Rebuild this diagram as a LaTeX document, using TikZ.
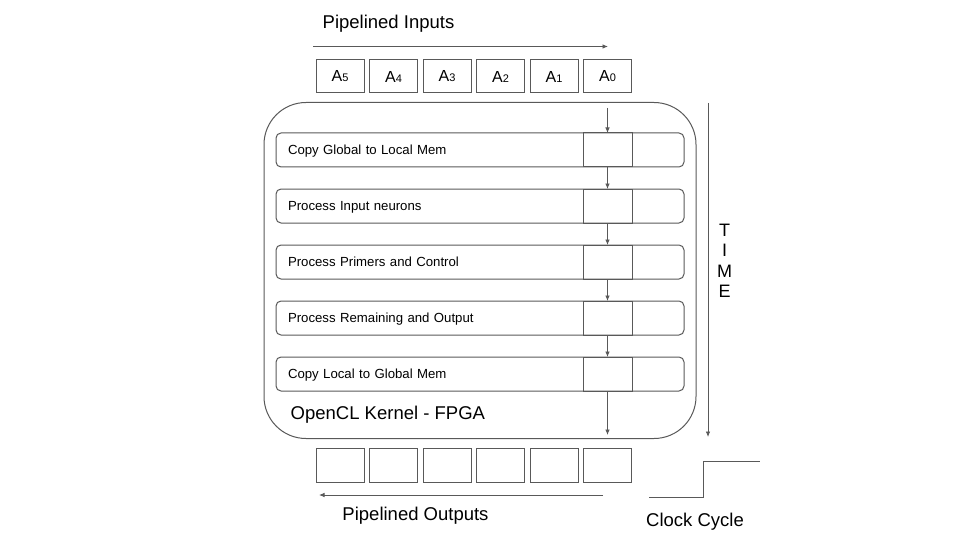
\documentclass[tikz,border=0pt]{standalone}
\usepackage{fontspec}
\setmainfont{Liberation Sans}
\usetikzlibrary{arrows.meta,positioning}
\newcommand{\idx}[1]{{\fontsize{11}{11}\selectfont #1}}
\tikzset{
  base/.style={align=center, inner sep=0pt, outer sep=0pt, text=black},
  big/.style={base, font=\fontsize{18.5}{20.5}\selectfont},
  slot/.style={rectangle, draw=black!65, line width=1pt, minimum width=48pt, minimum height=33pt, base, font=\fontsize{16}{16}\selectfont},
  stage/.style={rectangle, draw=black!65, line width=1pt, rounded corners=5pt, minimum width=408pt, minimum height=34pt, text width=384pt, text depth=0pt, inner xsep=12pt, align=left, outer sep=0pt, font=\fontsize{13.2}{15}\selectfont},
  cell/.style={rectangle, draw=black!65, line width=1pt, minimum width=49pt, minimum height=34pt, inner sep=0pt, outer sep=0pt},
  kernel/.style={rectangle, draw=black!65, line width=1pt, rounded corners=42pt, minimum width=432pt, minimum height=336pt, base},
  arrow/.style={-{Latex[length=5.5pt,width=4.5pt]}, line width=0.8pt, color=black!65},
  wire/.style={line width=1pt, color=black!65}
}
\begin{document}
\begin{tikzpicture}[x=1pt, y=-1pt, node distance=22pt and 5.5pt]
  \useasboundingbox (0,0) rectangle (960,540);

  % kernel box
  \node[kernel] (fpga) at (480,270.5) {};
  \node[big, anchor=base west] (fpgalbl) at (290.7,419.3) {OpenCL Kernel - FPGA};

  % inputs
  \node[big, anchor=base] (inlbl) at (388.5,28.3) {Pipelined Inputs};
  \coordinate (infrom) at (313,46.5);
  \coordinate (into) at (608,46.5);
  \draw[arrow] (infrom) -- (into);
  \node[slot] (a5) at (340,76.5) {A\idx{5}};
  \node[slot, right=of a5] (a4) {A\idx{4}};
  \node[slot, right=of a4] (a3) {A\idx{3}};
  \node[slot, right=of a3] (a2) {A\idx{2}};
  \node[slot, right=of a2] (a1) {A\idx{1}};
  \node[slot, right=of a1] (a0) {A\idx{0}};

  % pipeline stages
  \node[stage] (copyin) at (480,150) {Copy Global to Local Mem};
  \node[stage, below=of copyin] (inneur) {Process Input neurons};
  \node[stage, below=of inneur] (primers) {Process Primers and Control};
  \node[stage, below=of primers] (remain) {Process Remaining and Output};
  \node[stage, below=of remain] (copyout) {Copy Local to Global Mem};

  \node[cell, anchor=north west] (c1) at ([xshift=307pt]copyin.north west) {};
  \node[cell, anchor=north west] (c2) at ([xshift=307pt]inneur.north west) {};
  \node[cell, anchor=north west] (c3) at ([xshift=307pt]primers.north west) {};
  \node[cell, anchor=north west] (c4) at ([xshift=307pt]remain.north west) {};
  \node[cell, anchor=north west] (c5) at ([xshift=307pt]copyout.north west) {};

  \coordinate (enter) at (607.5,108);
  \coordinate (leave) at (607.5,435);
  \draw[arrow] (enter) -- (c1.north);
  \draw[arrow] (c1.south) -- (c2.north);
  \draw[arrow] (c2.south) -- (c3.north);
  \draw[arrow] (c3.south) -- (c4.north);
  \draw[arrow] (c4.south) -- (c5.north);
  \draw[arrow] (c5.south) -- (leave);

  % outputs
  \node[slot, minimum height=34pt] (o5) at (340,465) {};
  \node[slot, minimum height=34pt, right=of o5] (o4) {};
  \node[slot, minimum height=34pt, right=of o4] (o3) {};
  \node[slot, minimum height=34pt, right=of o3] (o2) {};
  \node[slot, minimum height=34pt, right=of o2] (o1) {};
  \node[slot, minimum height=34pt, right=of o1] (o0) {};
  \coordinate (outfrom) at (603,495);
  \coordinate (outto) at (319,495);
  \draw[arrow] (outfrom) -- (outto);
  \node[big, anchor=base] (outlbl) at (415.5,520.7) {Pipelined Outputs};

  % time axis
  \coordinate (tstart) at (708,103);
  \coordinate (tend) at (708,437);
  \draw[arrow] (tstart) -- (tend);
  \node[big, font=\fontsize{18}{20.5}\selectfont] (time) at (724.5,261) {T\\I\\M\\E};

  % clock
  \coordinate (clklo) at (649,497);
  \coordinate (clkup) at (703,461);
  \coordinate (clkhi) at (760,461);
  \draw[wire] (clklo) -| (clkup) -- (clkhi);
  \node[big, anchor=base] (clklbl) at (695,526.7) {Clock Cycle};
\end{tikzpicture}
\end{document}
